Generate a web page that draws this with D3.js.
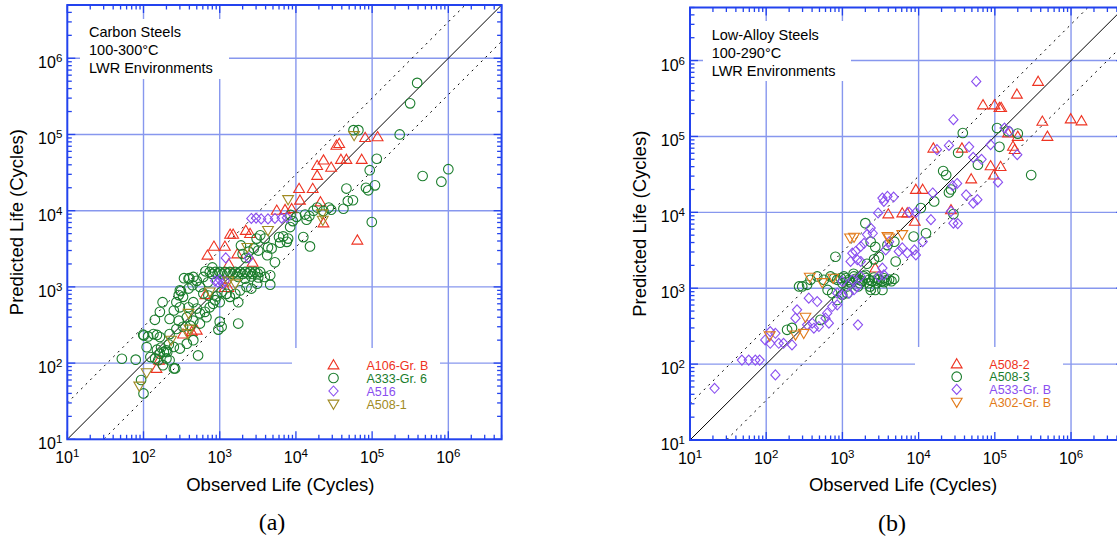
<!DOCTYPE html>
<html><head><meta charset="utf-8">
<script src="https://cdn.jsdelivr.net/npm/d3@7"></script>
<style>body{margin:0;background:#fff}svg{display:block}</style>
</head><body><svg id="c" width="1117" height="544"></svg>
<script>
// ---------- data ----------
const domain = [10, 5e6];
const tickExps = [1, 2, 3, 4, 5, 6];
const gridExps = [2, 3, 4, 5, 6];
const scatterFactor = 3;

const titlesA = ["Carbon Steels", "100-300°C", "LWR Environments"];
const titlesB = ["Low-Alloy Steels", "100-290°C", "LWR Environments"];
const xTitle = "Observed Life (Cycles)";
const yTitle = "Predicted Life (Cycles)";

// [observed, predicted]
const a106 = [[1.18e5,9.3e4],[8.1e4,9.1e4],[3.7e4,7.6e4],[3.4e4,7.2e4],[2.3e4,4.6e4],[2.9e4,3.7e4],[1.9e4,3.9e4],[3.9e4,4.7e4],[4.6e4,4.7e4],[7.3e4,4.7e4],[1.9e4,2.9e4],[1.1e4,1.95e4],[1.66e4,1.95e4],[2.1e4,1.3e4],[1.13e4,1.37e4],[5.6e3,1.01e4],[7.2e3,1.03e4],[8.8e3,1.06e4],[2.3e4,6.9e3],[6.4e4,4.1e3],[2.2e3,5.5e3],[2.5e3,5.0e3],[1.37e3,4.9e3],[1.5e3,4.9e3],[840,3400],[690,2600],[1170,3400],[1700,2700],[1170,980],[1300,980],[500,270],[330,240],[430,260],[160,109],[148,85],[650,790],[2700,2100],[1320,2000]];
const a333 = [[5.7e4,1.14e5],[6.6e4,1.14e5],[1.15e5,4.8e4],[2.3e5,1.0e5],[9.3e4,3.4e4],[1.09e5,2.15e4],[8.9e4,1.85e4],[8.3e4,2.0e4],[4.6e4,1.95e4],[5.6e4,1.37e4],[4.8e4,1.34e4],[4.2e4,1.06e4],[2.9e4,1.03e4],[2.7e4,1.1e4],[1.9e4,1.1e4],[2.3e4,9.9e3],[9.9e4,7.1e3],[1.32e4,8.9e3],[1.38e4,7.6e3],[1.25e4,4.5e3],[1.53e4,3.4e3],[1.02e4,8.3e3],[9.1e3,7.3e3],[8.4e3,6.1e3],[7.9e3,4.3e3],[6.8e3,4.6e3],[6.2e3,3.8e3],[7.6e3,3.9e3],[5.3e3,2.1e3],[4.3e3,3.3e3],[4.8e3,3.2e3],[3.4e3,4.75e3],[3.05e3,4.3e3],[3.9e3,4.3e3],[2.8e3,3.2e3],[3.2e3,3.0e3],[2.0e3,2.7e3],[2.4e3,2.9e3],
[740,1570],[870,1570],[1000,1570],[1170,1570],[1360,1570],[1600,1570],[1850,1570],[2150,1570],[2500,1570],[2900,1570],[3400,1570],
[800,1480],[940,1500],[1080,1480],[1270,1500],[1480,1480],[1720,1500],[2000,1480],[2330,1500],[2700,1480],[3150,1500],
[1750,1350],[2150,1280],[2600,1370],[3200,1330],[3900,1350],[4600,1420],[610,1350],[450,1350],[390,1280],[500,1200],
[550,1000],[610,820],[710,770],[870,670],[910,750],[1060,860],[1230,810],[1360,740],[1600,810],[1850,900],[2250,1000],[2600,950],[1750,630],[450,630],[330,740],[270,630],[300,900],[390,950],[178,630],[164,470],[250,490],[300,540],[390,540],[500,520],[550,450],[640,470],[740,540],[820,600],[1000,630],[220,380],[290,360],[370,400],[450,360],[550,330],[670,400],[1000,350],[1060,300],[960,275],[1750,330],[330,300],[410,310],[270,280],[220,240],[164,220],[135,240],[450,200],[370,180],[300,155],[250,163],[200,147],[164,133],[142,115],[520,126],[220,109],[260,85],[180,94],[156,109],
[52,114],[79,111],[99,236],[101,230],[115,224],[150,234],[141,370],[110,162],[123,120],[93,60],[100,40],[150,150],[170,160],[185,140],[200,115],[205,140],[215,175],[250,85],
[3.9e5,4.75e5],[3.15e5,2.56e5],[4.6e5,2.85e4],[8.1e5,2.4e4],[1.0e6,3.5e4],
[340,1300],[400,1300],[310,880],[290,780],[440,1050],[700,1150],[650,1600],[800,1800],[1900,3500],[2200,2400],[4200,2600],[4600,1070],[3100,1100],[6000,4500],[8500,8800],[1.5e4,8500],[1.7e4,1.0e4]];
const a516 = [[2.6e3,7.9e3],[3.0e3,8.0e3],[3.5e3,7.8e3],[4.3e3,7.8e3],[5.3e3,7.9e3],[6.5e3,8.0e3],[7.6e3,8.1e3],[1.2e3,2.4e3],[2.4e3,2.4e3],[870,1200],[1000,1250],[1170,1200],[950,1150],[1100,1100]];
const a5081 = [[5.8e4,9.7e4],[7.9e3,1.4e4],[2.2e4,9.1e3],[2.25e4,7.5e3],[4.3e3,5.5e3],[2.3e3,3.3e3],[1.6e3,1.1e3],[740,860],[390,450],[400,280],[380,245],[230,200],[110,75],[88,50],[1.3e3,1.2e3]];

const a5082 = [[3.7e5,5.3e5],[1.95e5,3.6e5],[7.0e4,2.6e5],[9.9e4,2.6e5],[1.15e5,2.4e5],[1.21e5,2.4e5],[4.2e5,1.58e5],[9.9e5,1.7e5],[1.37e6,1.6e5],[4.9e5,1.0e5],[1.49e5,1.11e5],[2.0e5,1.0e5],[1.73e5,7.4e4],[1.82e5,6.7e4],[1.56e4,7.0e4],[3.7e4,7.0e4],[8.8e4,4.1e4],[1.19e5,4.0e4],[9.7e4,3.1e4],[4.9e4,2.75e4],[9.2e3,2.0e4],[1.13e4,2.0e4],[2.66e4,1.08e4],[4.0e3,9.5e3],[6.1e3,9.8e3],[7.1e3,9.8e3],[8.9e3,7.6e3],[2.7e3,1.84e3]];
const a5083 = [[3.8e4,1.11e5],[1.07e5,1.29e5],[1.15e5,7.3e4],[1.49e5,1.17e5],[2.0e5,1.09e5],[6.0e4,4.25e4],[3.0e5,3.1e4],[3.3e4,6.1e4],[2.1e4,3.5e4],[2.3e4,3.1e4],[2.66e4,2.0e4],[2.5e4,1.83e4],[1.6e4,1.39e4],[1.07e4,1.14e4],[2.86e4,9.5e3],[1.25e4,5.3e3],[8.6e3,4.8e3],[2.0e3,7.2e3],[810,2600],[5.0e3,2.25e3],[4.8e3,4.1e3],[3.9e3,3.7e3],[2.7e3,3.5e3],[2.35e3,4.1e3],[3.0e3,2.6e3],[2.6e3,2.4e3],[2.1e3,2.1e3],
[381,1290],[467,1430],[570,1290],[698,1430],[855,1290],[1047,1430],[1219,1290],[1419,1430],[1652,1290],[1920,1430],[2234,1290],[2600,1380],[3027,1290],[3524,1350],[4101,1300],[4775,1330],[1000,1167],[1300,1167],[1700,1167],[2200,1167],[2800,1167],[3500,1200],[1150,1055],[1600,1055],[2300,1050],[2000,1500],[1400,1550],
[1100,1350],[1500,1330],[1800,1250],[2050,1360],[2450,1250],[2900,1330],[3300,1230],[3800,1280],[4400,1240],[1250,1230],[950,1360],[780,1350],
[270,1055],[297,1055],[344,1110],[735,860],[855,700],[995,820],[1160,860],[188,283],[218,300],[515,383],[3350,950],[2700,950],[2350,950],[640,950]];
const a533 = [[5.7e4,5.3e5],[2.86e4,1.66e5],[1.74e4,6.7e4],[2.5e4,7.6e4],[4.6e4,7.3e4],[5.2e4,5.3e4],[6.7e4,5.0e4],[8.8e4,7.8e4],[1.34e5,1.29e5],[1.56e5,1.17e5],[1.97e5,5.75e4],[1.1e5,2.5e4],[1.53e4,1.8e4],[2.8e4,2.24e4],[3.2e4,2.4e4],[4.2e4,1.7e4],[5.2e4,1.32e4],[5.9e4,1.47e4],[2.66e4,1.03e4],[2.86e4,7.2e3],[3.26e4,7.1e3],[1.45e4,8.0e3],[3.35e3,1.54e4],[3.9e3,1.62e4],[3.5e3,1.39e4],[4.7e3,1.59e4],[2.94e3,9.8e3],[7.5e3,1.0e4],[9.2e3,1.0e4],[2.35e3,6.2e3],[2.1e3,5.1e3],[2.5e3,5.3e3],[1.13e4,4.1e3],[8.8e3,3.2e3],[7.1e3,2.9e3],[6.1e3,3.4e3],[5.5e3,3.05e3],[9.2e3,2.75e3],[4.1e3,4.1e3],[3.7e3,3.2e3],[1.92e3,3.9e3],[1.74e3,3.55e3],[1.49e3,3.05e3],[1.35e3,2.9e3],[1.57e3,2.37e3],[1.74e3,2.25e3],[1.28e3,2.25e3],[3.35e3,1.84e3],[3.5e3,1.5e3],[3.0e3,1.43e3],[995,1230],[1350,1290],[1740,1430],[1570,1050],[1420,953],[1220,861],[995,818],[855,861],[855,604],[735,574],[631,469],[600,403],[664,346],[467,668],[362,740],[254,519],[242,403],[401,346],[491,313],[422,297],[344,329],[1600,329],[113,268],[132,255],[146,188],[113,188],[218,179],[169,188],[97,208],[132,72],[21,48],[48,113],[59,113],[72,113],[82,113]];
const a302 = [[1.26e3,4.6e3],[1.42e3,4.7e3],[3.9e3,4.8e3],[4.1e3,4.6e3],[6.1e3,5.1e3],[373,1400],[542,1190],[757,1360],[327,415],[242,243],[311,255],[111,236]];

const namesA = ["A106-Gr. B", "A333-Gr. 6", "A516", "A508-1"];
const namesB = ["A508-2", "A508-3", "A533-Gr. B", "A302-Gr. B"];

// ---------- style ----------
const RED = "#ee3322", GREEN = "#1a7d2c", PURPLE = "#8a4ff0", OLIVE = "#a08a22", ORANGE = "#e27a18";
const AXIS = "#2343ee", GRID = "#8797ee";
const FONT = "'Liberation Sans', Arial, Helvetica, sans-serif";

const shapes = {
  up: "M0,-5.3L5.4,3.9L-5.4,3.9Z",
  down: "M0,5.3L5.4,-3.9L-5.4,-3.9Z",
  circle: "M4.8,0A4.8,4.8 0 1,1 -4.8,0A4.8,4.8 0 1,1 4.8,0Z",
  diamond: "M0,-5L4.6,0L0,5L-4.6,0Z"
};

const panels = [
  { x0: 67.3, x1: 501.6, y0: 5, y1: 439.3, titles: titlesA,
    textBox: [80, 19, 149, 60], legBox: [292, 348, 148, 91],
    legSym: 333.5, legText: 366.5, legY: 365, legStep: 13,
    caption: "(a)", capX: 272, capY: 530,
    series: [
      { name: namesA[0], data: a106, shape: "up", color: RED },
      { name: namesA[1], data: a333, shape: "circle", color: GREEN },
      { name: namesA[2], data: a516, shape: "diamond", color: PURPLE },
      { name: namesA[3], data: a5081, shape: "down", color: OLIVE }
    ] },
  { x0: 690, x1: 1124.3, y0: 7.5, y1: 440, titles: titlesB,
    textBox: [703, 21, 148, 60], legBox: [915, 347, 148, 93],
    legSym: 956.7, legText: 989.3, legY: 364, legStep: 12.7,
    caption: "(b)", capX: 892, capY: 531,
    series: [
      { name: namesB[0], data: a5082, shape: "up", color: RED },
      { name: namesB[1], data: a5083, shape: "circle", color: GREEN },
      { name: namesB[2], data: a533, shape: "diamond", color: PURPLE },
      { name: namesB[3], data: a302, shape: "down", color: ORANGE }
    ] }
];

const svg = d3.select("#c");
svg.append("rect").attr("width", 1117).attr("height", 544).attr("fill", "#fff");

panels.forEach((p, pi) => {
  const x = d3.scaleLog().domain(domain).range([p.x0, p.x1]);
  const y = d3.scaleLog().domain(domain).range([p.y1, p.y0]);
  const g = svg.append("g");
  const clipId = "clip" + pi;
  svg.append("clipPath").attr("id", clipId).append("rect")
    .attr("x", p.x0).attr("y", p.y0).attr("width", p.x1 - p.x0).attr("height", p.y1 - p.y0);

  // grid
  const grid = g.append("g").attr("stroke", GRID).attr("stroke-width", 1.4);
  gridExps.forEach(e => {
    const v = Math.pow(10, e);
    grid.append("line").attr("x1", x(v)).attr("x2", x(v)).attr("y1", p.y0).attr("y2", p.y1);
    grid.append("line").attr("x1", p.x0).attr("x2", p.x1).attr("y1", y(v)).attr("y2", y(v));
  });

  // white boxes
  g.append("rect").attr("x", p.textBox[0]).attr("y", p.textBox[1]).attr("width", p.textBox[2]).attr("height", p.textBox[3]).attr("fill", "#fff");
  g.append("rect").attr("x", p.legBox[0]).attr("y", p.legBox[1]).attr("width", p.legBox[2]).attr("height", p.legBox[3]).attr("fill", "#fff");

  // diagonal lines
  const dg = g.append("g").attr("clip-path", `url(#${clipId})`).attr("fill", "none");
  const line = d3.line().x(d => x(d[0])).y(d => y(d[1]));
  dg.append("path").attr("d", line([[domain[0], domain[0]], [domain[1], domain[1]]]))
    .attr("stroke", "#000").attr("stroke-width", 1);
  [scatterFactor, 1 / scatterFactor].forEach(f => {
    dg.append("path").attr("d", line([[domain[0], domain[0] * f], [domain[1], domain[1] * f]]))
      .attr("stroke", "#000").attr("stroke-width", 1).attr("stroke-dasharray", "2,4.5");
  });

  // points
  p.series.forEach(s => {
    g.append("g").selectAll("path").data(s.data).join("path")
      .attr("d", shapes[s.shape])
      .attr("transform", d => `translate(${x(d[0])},${y(d[1])})`)
      .attr("fill", "none").attr("stroke", s.color).attr("stroke-width", 1.1);
  });

  // frame + ticks
  const ax = g.append("g").attr("stroke", AXIS);
  ax.append("rect").attr("x", p.x0).attr("y", p.y0).attr("width", p.x1 - p.x0).attr("height", p.y1 - p.y0)
    .attr("fill", "none").attr("stroke-width", 2);
  const tickVals = [];
  tickExps.forEach(e => { for (let m = 1; m <= 9; m++) { const v = m * Math.pow(10, e); if (v <= domain[1]) tickVals.push([v, m === 1]); } });
  tickVals.forEach(([v, major]) => {
    const L = major ? 8 : 4.5;
    const xv = x(v), yv = y(v);
    ax.append("line").attr("x1", xv).attr("x2", xv).attr("y1", p.y1).attr("y2", p.y1 - L).attr("stroke-width", 1.3);
    ax.append("line").attr("x1", xv).attr("x2", xv).attr("y1", p.y0).attr("y2", p.y0 + L).attr("stroke-width", 1.3);
    ax.append("line").attr("y1", yv).attr("y2", yv).attr("x1", p.x0).attr("x2", p.x0 + L).attr("stroke-width", 1.3);
    ax.append("line").attr("y1", yv).attr("y2", yv).attr("x1", p.x1).attr("x2", p.x1 - L).attr("stroke-width", 1.3);
  });

  // tick labels
  tickExps.forEach(e => {
    const v = Math.pow(10, e);
    const tx = g.append("text").attr("x", x(v)).attr("y", p.y1 + 24).attr("text-anchor", "middle")
      .attr("font-family", FONT).attr("font-size", 16).attr("fill", "#000");
    tx.append("tspan").text("10");
    tx.append("tspan").attr("dy", -6).attr("font-size", 11.5).text(e);
    const ty = g.append("text").attr("x", p.x0 - 5).attr("y", y(v) + 10).attr("text-anchor", "end")
      .attr("font-family", FONT).attr("font-size", 16).attr("fill", "#000");
    ty.append("tspan").text("10");
    ty.append("tspan").attr("dy", -6).attr("font-size", 11.5).text(e);
  });

  // axis titles
  g.append("text").attr("x", p.x0 + 213).attr("y", 491).attr("text-anchor", "middle")
    .attr("font-family", FONT).attr("font-size", 18.5).attr("fill", "#000").text(xTitle);
  g.append("text").attr("transform", `translate(${p.x0 - 44},${(p.y0 + p.y1) / 2}) rotate(-90)`)
    .attr("text-anchor", "middle").attr("font-family", FONT).attr("font-size", 18.5).attr("fill", "#000").text(yTitle);

  // annotation text
  p.titles.forEach((t, i) => {
    g.append("text").attr("x", p.x0 + 21.7).attr("y", p.y0 + 32 + i * 18.2)
      .attr("font-family", FONT).attr("font-size", 14.5).attr("fill", "#000").text(t);
  });

  // legend
  p.series.forEach((s, i) => {
    const yy = p.legY + i * p.legStep;
    g.append("path").attr("d", shapes[s.shape]).attr("transform", `translate(${p.legSym},${yy})`)
      .attr("fill", "none").attr("stroke", s.color).attr("stroke-width", 1.1);
    g.append("text").attr("x", p.legText).attr("y", yy + 4.5).attr("font-family", FONT)
      .attr("font-size", 12.5).attr("fill", s.color).text(s.name);
  });

  // caption
  g.append("text").attr("x", p.capX).attr("y", p.capY).attr("text-anchor", "middle")
    .attr("font-family", "'Liberation Serif', 'Times New Roman', serif").attr("font-size", 24).attr("fill", "#000").text(p.caption);
});
</script></body></html>
